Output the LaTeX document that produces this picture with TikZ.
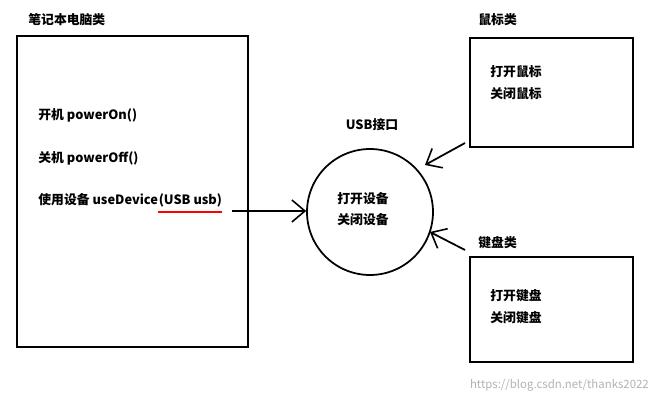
\documentclass[tikz,border=0pt]{standalone}
\usepackage{fontspec}
\setmainfont{Noto Sans CJK SC}
\usetikzlibrary{arrows.meta}
\tikzset{
  box/.style={draw,line width=1pt},
  txt/.style={anchor=west,inner sep=0pt,font=\fontsize{7.3}{8}\selectfont\bfseries},
  barb/.style={-{Straight Barb[length=2.6mm,width=4.4mm,line width=0.9pt]},line width=1pt}
}
\begin{document}
\begin{tikzpicture}[x=0.02cm,y=-0.02cm]
  \useasboundingbox (0,0) rectangle (662,401);
  % laptop
  \draw[box] (17,36) rectangle (248,347);
  \node[txt] (laptop) at (28,20) {笔记本电脑类};
  \node[txt] (on)  at (38,115) {开机 powerOn()};
  \node[txt] (off) at (38,158) {关机 powerOff()};
  \node[txt] (use) at (38,200) {使用设备 useDevice};
  \node[txt] (arg) at (use.east) {(USB usb)};
  \draw[red,line width=1pt] ([yshift=-3pt]arg.south west) -- ([yshift=-3pt]arg.south east);
  \coordinate (src) at (232,211);
  % usb interface
  \node[draw,circle,line width=1pt,minimum size=2.52cm] (usb) at (370,212) {};
  \node[txt,anchor=center] (usbt) at (372,125) {USB接口};
  \node[txt] (open) at (337,199) {打开设备};
  \node[txt] (close) at (337,220) {关闭设备};
  % mouse
  \draw[box] (470,38) rectangle (633,147);
  \node[txt] (mouse) at (478,20) {鼠标类};
  \node[txt] (mo) at (490,72) {打开鼠标};
  \node[txt] (mc) at (490,94) {关闭鼠标};
  \coordinate (msrc) at (465,143);
  % keyboard
  \draw[box] (470,257) rectangle (633,362);
  \node[txt] (kb) at (478,243) {键盘类};
  \node[txt] (ko) at (490,296) {打开键盘};
  \node[txt] (kc) at (490,318) {关闭键盘};
  \coordinate (ksrc) at (465,250);
  % arrows
  \draw[barb] (src) -- (usb.west |- src);
  \draw[barb] (msrc) -- (425,165);
  \draw[barb] (ksrc) -- (430,232);
  \node[anchor=east,gray!60,font=\fontsize{6.5}{7}\selectfont] (wm) at (655,385) {https://blog.csdn.net/thanks2022};
\end{tikzpicture}
\end{document}
